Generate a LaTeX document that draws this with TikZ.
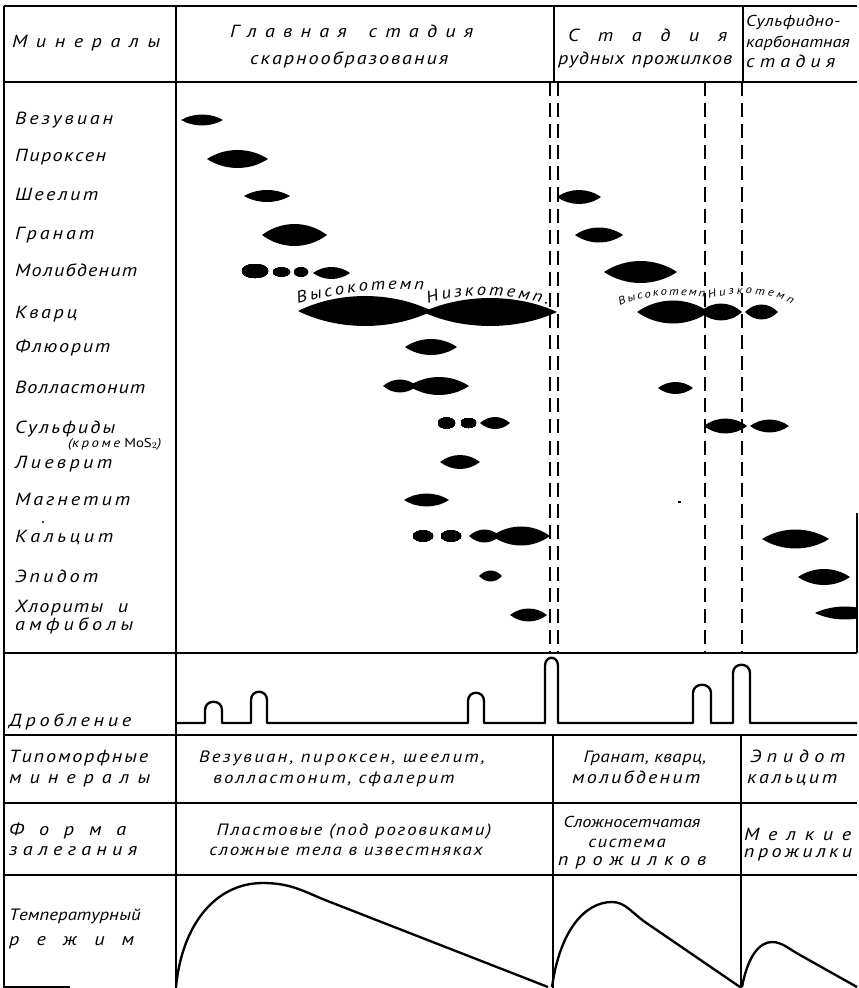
\documentclass[tikz,border=0pt]{standalone}
\usepackage{fontspec}
\setmainfont{PT Sans}[FakeStretch=1.15]
\usetikzlibrary{decorations.text}
\newlength\pxu
\setlength\pxu{0.03cm}
\newcommand\ls[1]{\addfontfeature{LetterSpace=#1}}
\def\sprfirst#1{#1\sprrest}
\def\sprrest#1{\ifx\relax#1\else\hfil#1\expandafter\sprrest\fi}
% spread the letters of a word over a given width (in pixels)
\newcommand\spreadtxt[2]{\makebox[#1\pxu][s]{\expandafter\sprfirst#2\relax}}
\newcommand\kvfont{\fontsize{14}{14}\selectfont\itshape}
\newcommand\kvsmall{\fontsize{9.5}{9.5}\selectfont\itshape}
% lens: x1, x2, y, half height
\newcommand\lens[4]{\fill (#1,#3) .. controls ({#1+0.3*(#2-#1)},{#3-1.33*#4}) and ({#2-0.3*(#2-#1)},{#3-1.33*#4}) .. (#2,#3)
  .. controls ({#2-0.3*(#2-#1)},{#3+1.33*#4}) and ({#1+0.3*(#2-#1)},{#3+1.33*#4}) .. cycle;}

\begin{document}
\begin{tikzpicture}[x=0.03cm, y=-0.03cm,
  tbl/.style={line width=1.3pt},
  sep/.style={line width=1.2pt, dash pattern=on 12pt off 6pt},
  crv/.style={line width=2pt, line join=round},
  lbl/.style={anchor=base west, inner sep=0pt, font=\fontsize{15}{17}\selectfont\itshape},
  small/.style={lbl, font=\fontsize{13.5}{15}\selectfont\itshape},
  txt/.style={anchor=base, inner sep=0pt, font=\fontsize{14}{16}\selectfont\itshape}]
\useasboundingbox (0,0) rectangle (858,988);

% table
\foreach \y in {6,82,653,735,803,875}
  \draw[tbl] (4,\y) -- (857,\y);
\draw[tbl] (4,6) -- (4,988) (176,6) -- (176,988);
\draw[tbl] (554,6) -- (554,82) (743,6) -- (743,82);
\draw[tbl] (553,735) -- (553,988) (741,735) -- (741,988);
\draw[tbl] (857,513) -- (857,653) (4,987) -- (70,987);
\foreach \x in {550,558,705,742}
  \draw[sep] (\x,82) -- (\x,653);

% header
\node[lbl] (hmin) at (12,48) {\spreadtxt{148}{Минералы}};
\node[lbl] (hst1a) at (230,38) {\spreadtxt{243}{Главная~стадия}};
\node[lbl] (hst1b) at (250,65) {\spreadtxt{198}{скарнообразования}};
\node[lbl] (hst2a) at (568,42) {\spreadtxt{159}{Стадия}};
\node[lbl] (hst2b) at (558,65) {\spreadtxt{174}{рудных~прожилков}};
\node[small] (hst3a) at (746,27) {\spreadtxt{94}{Сульфидно-}};
\node[small] (hst3b) at (746,48) {\spreadtxt{102}{карбонатная}};
\node[lbl] (hst3c) at (746,68) {\spreadtxt{89}{стадия}};

% minerals
\foreach \n/\t/\w/\y in {vez/Везувиан/98/125, pir/Пироксен/91/162, shee/Шеелит/83/200, gran/Гранат/79/239,
    mol/Молибденит/122/276, kv/Кварц/62/318, fl/Флюорит/95/352, vol/Волластонит/130/393,
    sulf/Сульфиды/100/433, liev/Лиеврит/97/468, magn/Магнетит/115/505, kal/Кальцит/98/542,
    epid/Эпидот/83/582, hlor/Хлориты~~и/113/612, amf/амфиболы/118/630}
  \node[lbl] (\n) at (15,\y) {\spreadtxt{\w}{\t}};
\node[anchor=base west, inner sep=0pt, font=\fontsize{11}{12}\selectfont\itshape] (krome) at (68,447) {({\ls{20}кроме} {\upshape MoS$_2$})};

\foreach \a/\b/\y/\h in {181/223/120/5.5, 207/268/159/9, 244/290/196/6, 557/601/197/7,
    262/327/235/11, 575/623/235/7.5, 313/350/273/6, 604/677/272/11,
    298/432/311/15, 423/557/312/14, 637/709/312/11.5, 700/742/312/8.5, 745/778/312/7.5,
    405/457/347/8, 383/417/386/6.5, 409/469/386/9, 658/693/388/6,
    480/510/423/6, 704/747/426/7.5, 750/789/426/6.5, 440/480/462/7, 404/449/500/6.5,
    469/500/536/6.5, 492/550/536/9.5, 762/829/539/9.5, 479/502/576/5.5, 798/850/577/8, 510/547/615/6.5}
  \lens{\a}{\b}{\y}{\h}
\foreach \x/\y/\rx/\ry in {255/271/13/7, 281.5/272/8.5/4.5, 301/272/7/4.5, 446.5/423/8.5/5.5,
    468.5/423/7.5/5, 423/536/10/5.5, 451/536/10/5.5}
  \fill (\x,\y) ellipse [x radius=\rx, y radius=\ry];
\begin{scope}
  \clip (0,0) rectangle (857,988);
  \lens{815}{875}{613}{6.5}
\end{scope}
\fill (678,501) rectangle (681,503);
\fill (43,522) circle [radius=1.2];

\path[decorate, decoration={text along path, text align=fit to path, text={|\kvfont|Высокотемп}}]
  (298,304) .. controls (340,292) and (385,287) .. (424,290);
\path[decorate, decoration={text along path, text align=fit to path, text={|\kvfont|Низкотемп.}}]
  (428,304) .. controls (460,293) and (510,293) .. (548,305);
\path[decorate, decoration={text along path, text align=fit to path, text={|\kvsmall|Высокотемп}}]
  (620,306) .. controls (642,296) and (672,293) .. (705,297);
\path[decorate, decoration={text along path, text align=fit to path, text={|\kvsmall|Низкотемп}}]
  (709,299) .. controls (732,292) and (768,291) .. (792,304);

% crushing
\node[lbl] (drob) at (9,726) {\spreadtxt{122}{Дробление}};
\draw[crv] (176,723) foreach \a/\b/\t in {205/222/702, 251/267/692, 468/484/693, 545/558/658, 693/711/685, 733/750/665}
  { -- (\a,723) -- (\a,{\t+8}) .. controls (\a,{\t-3}) and (\b,{\t-3}) .. (\b,{\t+8}) -- (\b,723) } -- (857,723);

% typomorphic minerals
\node[lbl] (tip1) at (9,762) {\spreadtxt{139}{Типоморфные}};
\node[lbl] (tip2) at (9,783) {\spreadtxt{141}{минералы}};
\node[txt, font=\fontsize{14}{16}\selectfont\itshape\ls{14}] (t1a) at (342,762) {Везувиан, пироксен, шеелит,};
\node[txt, font=\fontsize{14}{16}\selectfont\itshape\ls{13}] (t1b) at (334,783) {волластонит, сфалерит};
\node[txt, font=\fontsize{14}{16}\selectfont\itshape\ls{3}] (t2a) at (645,762) {Гранат, кварц,};
\node[lbl] (t2b) at (572,783) {\spreadtxt{128}{молибденит}};
\node[lbl] (t3a) at (750,762) {\spreadtxt{95}{Эпидот}};
\node[lbl] (t3b) at (747,783) {\spreadtxt{90}{кальцит}};

% form
\node[lbl] (fo1) at (9,835) {\spreadtxt{117}{Форма}};
\node[lbl] (fo2) at (9,855) {\spreadtxt{128}{залегания}};
\node[txt, font=\fontsize{14}{16}\selectfont\itshape\ls{11}] (f1a) at (354,835) {Пластовые (под роговиками)};
\node[txt, font=\fontsize{14}{16}\selectfont\itshape\ls{10}] (f1b) at (346,855) {сложные тела в известняках};
\node[txt, font=\fontsize{13.5}{15}\selectfont\itshape] (f2a) at (632,827) {Сложносетчатая};
\node[txt, font=\fontsize{14}{16}\selectfont\itshape\ls{8}] (f2b) at (627,847) {система};
\node[lbl] (f2c) at (558,865) {\spreadtxt{148}{прожилков}};
\node[lbl] (f3a) at (744,840) {\spreadtxt{107}{Мелкие}};
\node[lbl] (f3b) at (744,857) {\spreadtxt{108}{прожилки}};

% temperature
\node[lbl, font=\fontsize{14}{16}\selectfont\itshape] (te1) at (9,920) {\spreadtxt{122}{Температурный}};
\node[lbl] (te2) at (9,945) {\spreadtxt{125}{режим}};
\draw[crv] (176,987) .. controls (182,925) and (215,883) .. (263,883)
  .. controls (290,883) and (303,891) .. (325,900) -- (548,987);
\draw[crv] (552,987) .. controls (560,930) and (585,902) .. (612,902)
  .. controls (625,902) and (631,912) .. (645,922) -- (740,987);
\draw[crv] (742,987) .. controls (748,955) and (760,942) .. (772,942)
  .. controls (782,942) and (789,949) .. (800,955) -- (857,987);
\end{tikzpicture}
\end{document}
